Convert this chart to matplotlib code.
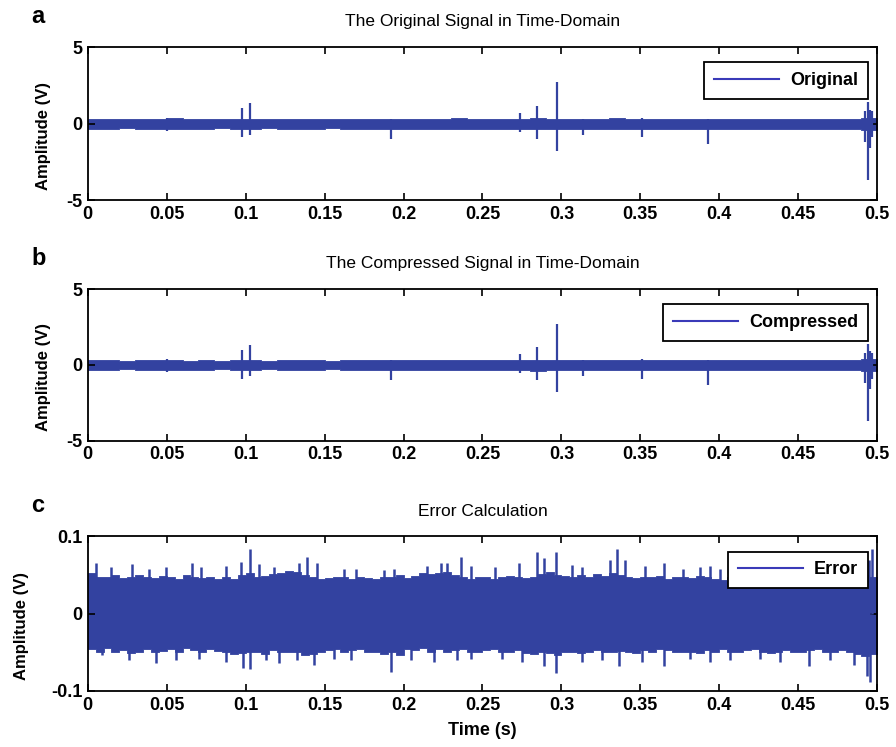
import numpy as np
import matplotlib
matplotlib.use("Agg")
import matplotlib.pyplot as plt
from matplotlib.lines import Line2D

plt.rcParams['font.family'] = ['Liberation Sans', 'DejaVu Sans']

# ---- time axis ----
t_start, t_end = 0.0, 0.5
xticks = [0, 0.05, 0.1, 0.15, 0.2, 0.25, 0.3, 0.35, 0.4, 0.45, 0.5]
xticklabels = ['0', '0.05', '0.1', '0.15', '0.2', '0.25', '0.3', '0.35', '0.4', '0.45', '0.5']

# ---- original signal: noise envelope every 10 ms (V) ----
signal_upper = [0.30, 0.32, 0.28, 0.33, 0.30, 0.34, 0.29, 0.32, 0.28, 0.30,
                0.31, 0.28, 0.30, 0.32, 0.30, 0.28, 0.33, 0.31, 0.30, 0.32,
                0.31, 0.30, 0.32, 0.34, 0.30, 0.31, 0.33, 0.32, 0.35, 0.31,
                0.30, 0.33, 0.32, 0.34, 0.31, 0.30, 0.32, 0.33, 0.30, 0.31,
                0.32, 0.30, 0.31, 0.33, 0.30, 0.32, 0.31, 0.30, 0.32, 0.38]
signal_lower = [-0.32, -0.34, -0.30, -0.35, -0.32, -0.36, -0.32, -0.34, -0.30, -0.32,
                -0.33, -0.30, -0.32, -0.34, -0.32, -0.30, -0.35, -0.33, -0.32, -0.34,
                -0.33, -0.32, -0.34, -0.36, -0.32, -0.33, -0.35, -0.34, -0.37, -0.33,
                -0.32, -0.35, -0.34, -0.36, -0.33, -0.32, -0.34, -0.35, -0.32, -0.33,
                -0.34, -0.32, -0.33, -0.35, -0.32, -0.34, -0.33, -0.32, -0.34, -0.42]
# transient spikes: time (s), positive peak (V), negative peak (V)
spike_t = [0.050, 0.0976, 0.103, 0.192, 0.274, 0.2846, 0.297, 0.3137, 0.351, 0.393,
           0.4925, 0.494, 0.4955, 0.497]
spike_hi = [0.40, 1.00, 1.34, 0.30, 0.70, 1.16, 2.70, 0.30, 0.40, 0.30,
            0.80, 1.40, 0.90, 0.80]
spike_lo = [-0.45, -0.90, -0.75, -1.00, -0.55, -1.00, -1.80, -0.75, -0.90, -1.30,
            -1.20, -3.70, -1.60, -0.90]

# ---- error signal: body envelope every 5 ms (V) ----
error_upper = [0.052, 0.048, 0.047, 0.050, 0.046, 0.048, 0.050, 0.047, 0.046, 0.049,
               0.048, 0.045, 0.050, 0.047, 0.046, 0.048, 0.045, 0.047, 0.045, 0.050,
               0.052, 0.048, 0.049, 0.051, 0.052, 0.055, 0.054, 0.050, 0.047, 0.045,
               0.046, 0.048, 0.047, 0.045, 0.048, 0.046, 0.045, 0.048, 0.047, 0.050,
               0.046, 0.049, 0.052, 0.051, 0.052, 0.054, 0.050, 0.048, 0.045, 0.047,
               0.048, 0.045, 0.047, 0.049, 0.047, 0.046, 0.048, 0.051, 0.054, 0.050,
               0.049, 0.047, 0.050, 0.048, 0.051, 0.049, 0.052, 0.050, 0.047, 0.046,
               0.048, 0.047, 0.049, 0.045, 0.047, 0.048, 0.046, 0.049, 0.047, 0.045,
               0.044, 0.047, 0.048, 0.046, 0.043, 0.045, 0.047, 0.044, 0.046, 0.043,
               0.045, 0.043, 0.046, 0.044, 0.047, 0.045, 0.043, 0.046, 0.050, 0.048]
error_lower = [-0.046, -0.049, -0.045, -0.050, -0.047, -0.051, -0.049, -0.046, -0.050, -0.048,
               -0.046, -0.049, -0.045, -0.047, -0.050, -0.046, -0.048, -0.050, -0.052, -0.051,
               -0.049, -0.050, -0.052, -0.047, -0.049, -0.050, -0.049, -0.053, -0.052, -0.049,
               -0.047, -0.046, -0.049, -0.047, -0.046, -0.049, -0.050, -0.052, -0.049, -0.053,
               -0.046, -0.047, -0.045, -0.049, -0.046, -0.050, -0.047, -0.046, -0.049, -0.049,
               -0.047, -0.046, -0.049, -0.050, -0.047, -0.051, -0.052, -0.050, -0.051, -0.054,
               -0.049, -0.050, -0.051, -0.049, -0.047, -0.049, -0.050, -0.048, -0.049, -0.051,
               -0.047, -0.049, -0.046, -0.047, -0.049, -0.050, -0.049, -0.051, -0.047, -0.049,
               -0.046, -0.049, -0.050, -0.047, -0.046, -0.049, -0.051, -0.049, -0.047, -0.050,
               -0.049, -0.047, -0.046, -0.049, -0.050, -0.047, -0.049, -0.052, -0.055, -0.052]
# individual error peaks: time (s) and value (V)
error_peak_t = [0.0051, 0.0146, 0.0283, 0.0388, 0.0494, 0.0663, 0.0716, 0.0875, 0.097, 0.1027,
                0.1085, 0.118, 0.1337, 0.139, 0.1453, 0.1622, 0.1696, 0.1876, 0.1939, 0.215,
                0.2235, 0.2277, 0.2362, 0.2425, 0.2581, 0.2729, 0.2845, 0.2888, 0.2966, 0.3067,
                0.313, 0.331, 0.3352, 0.3405, 0.3532, 0.3648, 0.3773, 0.3878, 0.3942, 0.4005,
                0.4945, 0.4966,
                0.0093, 0.0262, 0.0431, 0.0558, 0.0706, 0.0875, 0.098, 0.1027, 0.1128, 0.1213,
                0.1327, 0.1432, 0.1559, 0.1665, 0.1918, 0.2045, 0.2193, 0.234, 0.2425, 0.2624,
                0.275, 0.2888, 0.2966, 0.313, 0.3257, 0.3363, 0.3511, 0.3648, 0.3815, 0.3942,
                0.4068, 0.4259, 0.4385, 0.4565, 0.4702, 0.485, 0.4935, 0.4955]
error_peak_v = [0.065, 0.060, 0.064, 0.058, 0.060, 0.066, 0.060, 0.062, 0.067, 0.083,
                0.064, 0.060, 0.066, 0.073, 0.066, 0.058, 0.058, 0.056, 0.058, 0.062,
                0.066, 0.066, 0.073, 0.062, 0.060, 0.066, 0.080, 0.072, 0.080, 0.063,
                0.060, 0.070, 0.083, 0.070, 0.062, 0.066, 0.058, 0.060, 0.062, 0.058,
                0.070, 0.083,
                -0.054, -0.060, -0.064, -0.060, -0.058, -0.063, -0.070, -0.071, -0.060, -0.064,
                -0.060, -0.066, -0.058, -0.060, -0.075, -0.060, -0.062, -0.060, -0.058, -0.058,
                -0.062, -0.068, -0.077, -0.062, -0.060, -0.068, -0.062, -0.068, -0.058, -0.062,
                -0.060, -0.058, -0.062, -0.068, -0.060, -0.066, -0.080, -0.088]

color = '#3342a0'
line_color = '#3a3ab8'

fig = plt.figure(figsize=(8.96, 7.47), dpi=100)
left, width = 0.098, 0.881
boxes = [(0.732, 0.205), (0.410, 0.203), (0.075, 0.207)]
tick_fs = 13


def envelope_band(ax, upper, lower, step):
    edges = np.arange(len(upper) + 1) * step
    up = np.append(upper, upper[-1])
    lo = np.append(lower, lower[-1])
    ax.fill_between(edges, lo, up, step='post', color=color, linewidth=0.6, edgecolor=color)


def style(ax, ylim, yticks, yticklabels, title, letter, legend_label, label_x):
    ax.set_xlim(t_start, t_end)
    ax.set_ylim(*ylim)
    ax.set_xticks(xticks)
    ax.set_xticklabels(xticklabels, fontsize=tick_fs, fontweight='bold')
    ax.set_yticks(yticks)
    ax.set_yticklabels(yticklabels, fontsize=tick_fs, fontweight='bold')
    ax.tick_params(direction='in', top=True, right=True, length=5, width=1.2, pad=4)
    for s in ax.spines.values():
        s.set_linewidth(1.3)
    ax.set_ylabel('Amplitude (V)', fontsize=12, fontweight='bold')
    ax.yaxis.set_label_coords(label_x, 0.42)
    ax.set_title(title, fontsize=12.5, pad=15)
    ax.text(-0.072, 1.2, letter, transform=ax.transAxes, fontsize=17,
            fontweight='bold', ha='left', va='center')
    h = Line2D([], [], color=line_color, linewidth=1.5)
    leg = ax.legend([h], [legend_label], loc='upper right',
                    bbox_to_anchor=(1 - 9 / 789, 1 - 15 / 153),
                    frameon=True, fancybox=False, edgecolor='black', framealpha=1,
                    handlelength=3.6, handletextpad=0.6, borderpad=0.55, borderaxespad=0,
                    prop={'size': 13, 'weight': 'bold'})
    leg.get_frame().set_linewidth(1.3)
    leg.set_zorder(10)


# panels a and b: original and compressed signals
for i, (title, letter, lab) in enumerate([
        ('The Original Signal in Time-Domain', 'a', 'Original'),
        ('The Compressed Signal in Time-Domain', 'b', 'Compressed')]):
    b, h = boxes[i]
    ax = fig.add_axes([left, b, width, h])
    envelope_band(ax, signal_upper, signal_lower, 0.01)
    ax.vlines(spike_t, spike_lo, spike_hi, color=color, linewidth=1.6)
    style(ax, (-5, 5), [-5, 0, 5], ['-5', '0', '5'], title, letter, lab, -0.047)

# panel c: error between original and compressed
b, h = boxes[2]
ax = fig.add_axes([left, b, width, h])
envelope_band(ax, error_upper, error_lower, 0.005)
ax.vlines(error_peak_t, 0, error_peak_v, color=color, linewidth=1.8)
style(ax, (-0.1, 0.1), [-0.1, 0, 0.1], ['-0.1', '0', '0.1'],
      'Error Calculation', 'c', 'Error', -0.074)
ax.set_xlabel('Time (s)', fontsize=13, fontweight='bold', labelpad=6)

fig.savefig('out.png', dpi=100)
